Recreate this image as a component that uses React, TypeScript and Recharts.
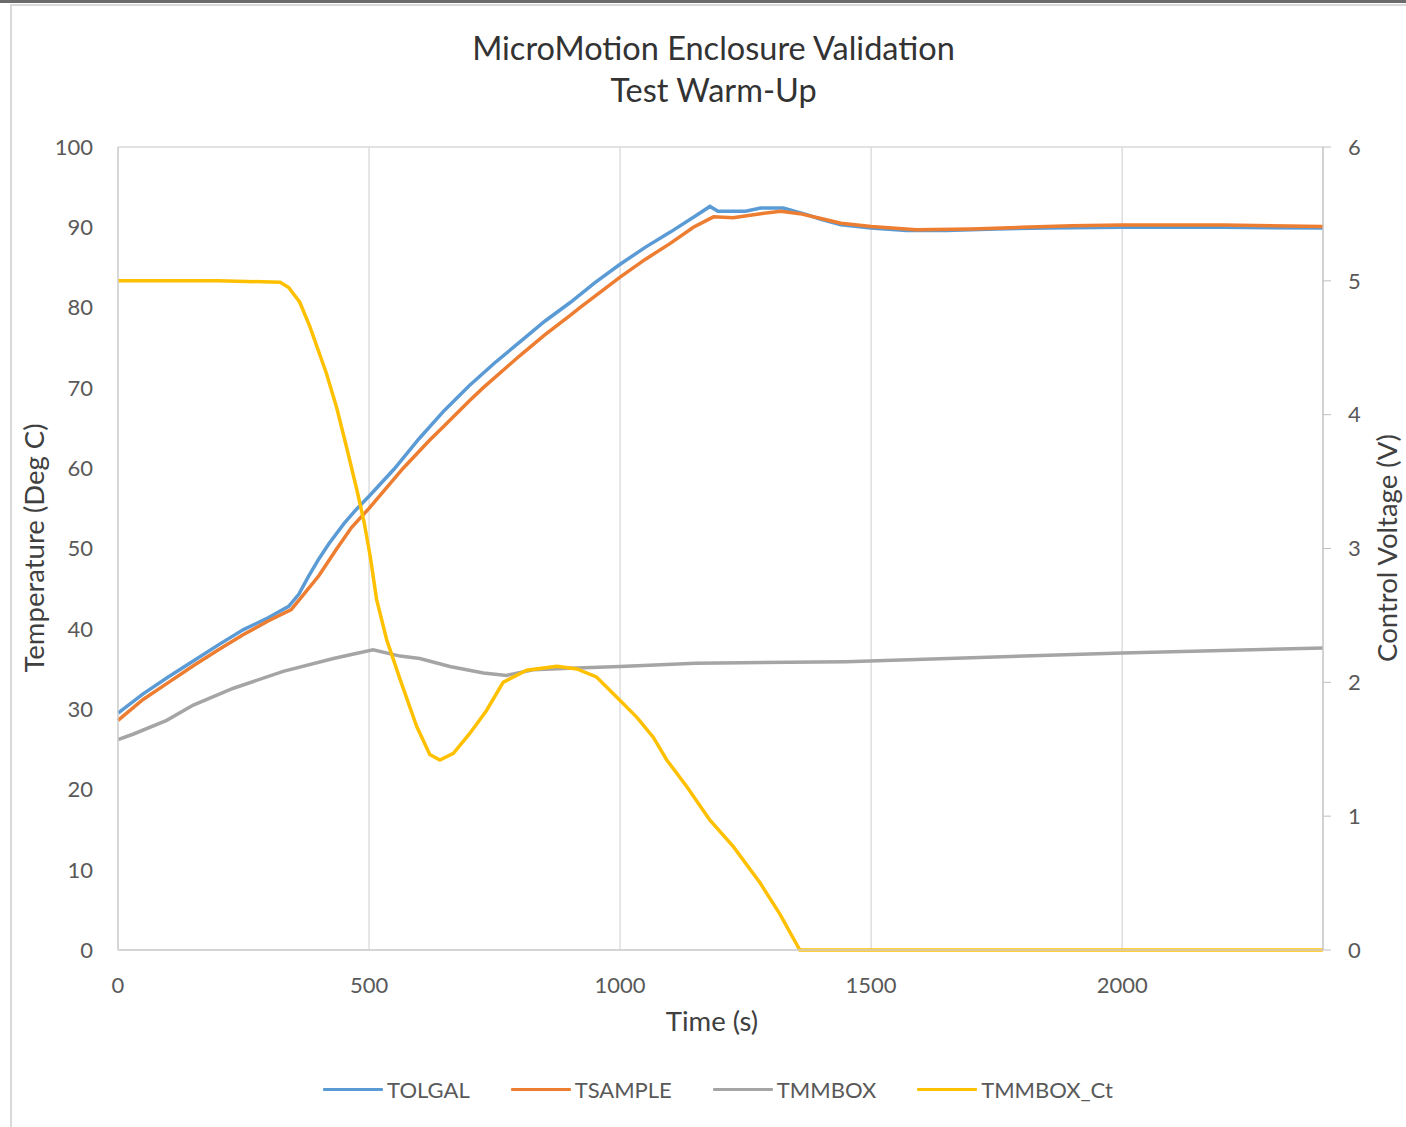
import React from "react";
import { LineChart, Line, XAxis, YAxis, CartesianGrid, Legend } from "recharts";

// ---- data ----
const tolgalTime = [0, 50, 100, 150, 200, 250, 300, 340, 360, 380, 400, 420, 450, 475, 500, 550, 600, 650, 700, 750, 800, 850, 900, 950, 1000, 1050, 1100, 1150, 1179, 1195, 1250, 1280, 1325, 1370, 1400, 1440, 1500, 1570, 1650, 1750, 1850, 2000, 2200, 2400];
const tolgalTemp = [29.5, 31.9, 34.0, 36.0, 38.0, 39.9, 41.4, 42.8, 44.3, 46.6, 48.7, 50.6, 53.1, 54.9, 56.5, 59.9, 63.7, 67.2, 70.3, 73.1, 75.7, 78.3, 80.6, 83.1, 85.4, 87.5, 89.4, 91.4, 92.6, 92.0, 92.0, 92.4, 92.4, 91.6, 91.0, 90.3, 89.9, 89.6, 89.6, 89.8, 89.9, 90.0, 90.0, 89.9];

const tsampleTime = [0, 50, 100, 150, 200, 250, 300, 345, 365, 400, 435, 465, 500, 568, 621, 650, 700, 727, 800, 850, 900, 920, 1000, 1050, 1100, 1146, 1186, 1225, 1280, 1320, 1358, 1400, 1440, 1500, 1590, 1700, 1800, 1900, 2000, 2200, 2400];
const tsampleTemp = [28.6, 31.2, 33.3, 35.4, 37.4, 39.3, 41.0, 42.4, 43.9, 46.6, 49.9, 52.6, 55.0, 60.0, 63.5, 65.3, 68.4, 70.0, 74.0, 76.6, 79.0, 80.0, 83.8, 86.0, 88.0, 90.0, 91.3, 91.2, 91.7, 92.0, 91.7, 91.1, 90.5, 90.1, 89.7, 89.8, 90.0, 90.2, 90.3, 90.3, 90.1];

const tmmboxTime = [0, 31, 97, 150, 230, 329, 429, 465, 508, 562, 601, 661, 728, 774, 827, 900, 1000, 1150, 1450, 1700, 2000, 2200, 2400];
const tmmboxTemp = [26.2, 26.9, 28.6, 30.5, 32.6, 34.7, 36.3, 36.8, 37.4, 36.6, 36.3, 35.3, 34.5, 34.2, 34.9, 35.1, 35.3, 35.7, 35.9, 36.4, 37.0, 37.3, 37.6];

const ctTime = [0, 200, 323, 340, 362, 382, 415, 435, 455, 475, 490, 502, 515, 535, 562, 595, 621, 641, 668, 701, 734, 767, 814, 874, 914, 953, 993, 1033, 1066, 1093, 1133, 1179, 1226, 1279, 1318, 1358, 1700, 2000, 2400];
const ctVolt = [5.0, 5.0, 4.99, 4.95, 4.84, 4.66, 4.31, 4.06, 3.76, 3.45, 3.2, 2.95, 2.62, 2.32, 2.02, 1.67, 1.46, 1.42, 1.47, 1.62, 1.79, 2.0, 2.09, 2.12, 2.1, 2.04, 1.89, 1.74, 1.59, 1.42, 1.22, 0.97, 0.77, 0.5, 0.27, 0, 0, 0, 0];

const timeTicks = [0, 500, 1000, 1500, 2000];
const tempTicks = [0, 10, 20, 30, 40, 50, 60, 70, 80, 90, 100];
const voltTicks = [0, 1, 2, 3, 4, 5, 6];

const seriesNames = ["TOLGAL", "TSAMPLE", "TMMBOX", "TMMBOX_Ct"];
const titleLines = ["MicroMotion Enclosure Validation", "Test Warm-Up"];

const build = (ts: number[], vs: number[]) => ts.map((t, i) => ({ t, v: vs[i] }));
const tolgalData = build(tolgalTime, tolgalTemp);
const tsampleData = build(tsampleTime, tsampleTemp);
const tmmboxData = build(tmmboxTime, tmmboxTemp);
const ctData = build(ctTime, ctVolt);

const FONT = "Lato, 'Open Sans', sans-serif";
const TXT = "#595959";

const LegendContent = (props: any) => {
  const payload = [...(props.payload || [])].sort(
    (a: any, b: any) => seriesNames.indexOf(a.value) - seriesNames.indexOf(b.value)
  );
  return (
    <div style={{ display: "flex", justifyContent: "center", alignItems: "center", fontFamily: FONT, fontSize: 22, color: TXT }}>
      {payload.map((p: any, i: number) => (
        <div key={i} style={{ display: "flex", alignItems: "center", marginLeft: i === 0 ? 0 : 41 }}>
          <div style={{ width: 60, height: 3, background: p.color, borderRadius: 1 }} />
          <span style={{ marginLeft: 4 }}>{p.value}</span>
        </div>
      ))}
    </div>
  );
};

export default function App() {
  return (
    <div style={{ position: "absolute", left: 0, top: 0, width: 1406, height: 1127, background: "#fff", overflow: "hidden" }}>
      <div style={{ position: "absolute", left: 0, top: 0, width: 1406, height: 3, background: "#6b6b6b" }} />
      <div style={{ position: "absolute", left: 10, top: 4, width: 1400, height: 1130, borderTop: "2px solid #d9d9d9", borderLeft: "2px solid #d9d9d9" }} />
      <div style={{ position: "absolute", left: 0, top: 27, width: 1427, textAlign: "center", fontFamily: FONT, fontSize: 32.5, color: "#333333", lineHeight: "42px" }}>
        {titleLines.map((l, i) => (
          <div key={i}>{l}</div>
        ))}
      </div>
      <div style={{ position: "absolute", left: 0, top: 0 }}>
        <LineChart width={1406} height={1127} margin={{ top: 147, right: 23, bottom: 117, left: 18 }}>
          <CartesianGrid stroke="#d9d9d9" strokeWidth={1.3} />
          <XAxis
            dataKey="t"
            type="number"
            domain={[0, 2400]}
            ticks={timeTicks}
            allowDuplicatedCategory={false}
            tickLine={false}
            axisLine={{ stroke: "#d0d0d0", strokeWidth: 1.3 }}
            tickMargin={21}
            height={60}
            tick={{ fill: TXT, fontSize: 22, fontFamily: FONT }}
            label={{
              content: () => (
                <text x={712} y={1031} textAnchor="middle" fill="#404040" fontSize={27.5} fontFamily={FONT}>
                  Time (s)
                </text>
              ),
            }}
          />
          <YAxis
            yAxisId="temp"
            domain={[0, 100]}
            ticks={tempTicks}
            width={100}
            tickLine={false}
            axisLine={{ stroke: "#d0d0d0", strokeWidth: 1.3 }}
            tickMargin={19}
            tick={{ fill: TXT, fontSize: 22, fontFamily: FONT }}
            label={{
              content: () => (
                <text x={44} y={548} transform="rotate(-90 44 548)" textAnchor="middle" fill="#404040" fontSize={27.5} fontFamily={FONT}>
                  Temperature (Deg C)
                </text>
              ),
            }}
          />
          <YAxis
            yAxisId="volt"
            orientation="right"
            domain={[0, 6]}
            ticks={voltTicks}
            width={60}
            tickSize={8}
            tickLine={{ stroke: "#bfbfbf" }}
            axisLine={{ stroke: "#c8c8c8", strokeWidth: 1.3 }}
            tickMargin={17}
            tick={{ fill: TXT, fontSize: 22, fontFamily: FONT }}
            label={{
              content: () => (
                <text x={1397} y={548} transform="rotate(-90 1397 548)" textAnchor="middle" fill="#404040" fontSize={27.5} fontFamily={FONT}>
                  Control Voltage (V)
                </text>
              ),
            }}
          />
          <Line data={tolgalData} dataKey="v" name="TOLGAL" yAxisId="temp" type="linear" stroke="#5B9BD5" strokeWidth={3.5} dot={false} activeDot={false} isAnimationActive={false} />
          <Line data={tsampleData} dataKey="v" name="TSAMPLE" yAxisId="temp" type="linear" stroke="#ED7D31" strokeWidth={3.5} dot={false} activeDot={false} isAnimationActive={false} />
          <Line data={tmmboxData} dataKey="v" name="TMMBOX" yAxisId="temp" type="linear" stroke="#A5A5A5" strokeWidth={3.5} dot={false} activeDot={false} isAnimationActive={false} />
          <Line data={ctData} dataKey="v" name="TMMBOX_Ct" yAxisId="volt" type="linear" stroke="#FFC000" strokeWidth={3.5} dot={false} activeDot={false} isAnimationActive={false} />
          <Legend
            layout="horizontal"
            align="center"
            verticalAlign="middle"
            content={<LegendContent />}
            wrapperStyle={{ top: 1076, left: 0, width: 1436 }}
          />
        </LineChart>
      </div>
    </div>
  );
}
